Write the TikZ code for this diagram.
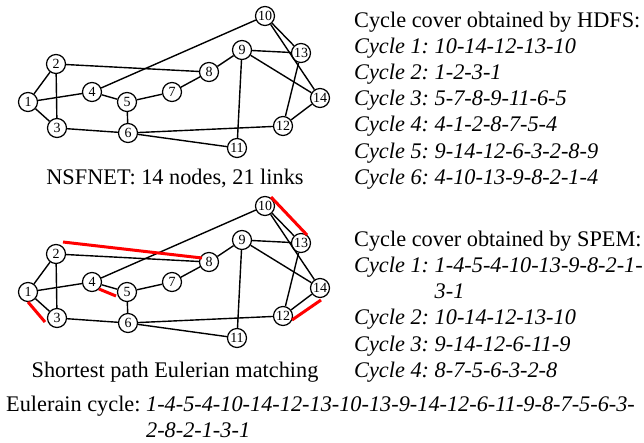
\documentclass[tikz,border=0pt]{standalone}
\usepackage{fontspec}
\setmainfont{Liberation Serif}
\usetikzlibrary{calc}
\frenchspacing
\begin{document}
\frenchspacing
\begin{tikzpicture}[x=1pt,y=-1pt,
  vtx/.style={circle,draw,line width=1.2pt,minimum size=19pt,inner sep=0pt,font=\fontsize{14}{14}\selectfont},
  lnk/.style={line width=1.4pt},
  hl/.style={line width=3pt,red},
  txt/.style={anchor=base west,inner sep=0pt,font=\fontsize{22.3}{26}\selectfont},
  captxt/.style={anchor=base,inner sep=0pt,font=\fontsize{22.3}{26}\selectfont}]
\useasboundingbox (0,0) rectangle (644,442);
% nodes
\foreach \n/\x/\y in {1/28/102,2/56/64,3/57/128,4/92/92,5/127/102,6/128/133,7/172/92,8/209/72,9/242/50,10/265/16,11/237/148,12/283/126,13/301/53,14/320/98}{
  \node[vtx] (a\n) at (\x,\y) {\n};
  \node[vtx] (b\n) at (\x,\y+190) {\n};
}
% links
\foreach \u/\v in {1/2,1/3,1/4,2/3,2/8,3/6,4/5,4/10,5/7,5/6,7/8,8/9,9/13,9/14,9/11,10/13,10/14,13/12,14/12,6/12,6/11}{
  \draw[lnk] (a\u) -- (a\v);
  \draw[lnk] (b\u) -- (b\v);
}
% matching highlights
\coordinate (m1s) at ($(b2)+(7,-12)$);  \coordinate (m1e) at ($(b8)+(-7,-4)$);
\coordinate (m2s) at ($(b4)+(7,7)$);    \coordinate (m2e) at ($(b5)+(-11,4)$);
\coordinate (m3s) at ($(b1)+(0,10)$);   \coordinate (m3e) at ($(b3)+(-12,4)$);
\coordinate (m4s) at ($(b10)+(6,-9)$);  \coordinate (m4e) at ($(b13)+(6,-8)$);
\coordinate (m5s) at ($(b12)+(9,4)$);   \coordinate (m5e) at ($(b14)+(1,12)$);
\foreach \k in {1,...,5}{\draw[hl] (m\k s) -- (m\k e);}
% captions
\node[captxt] (capA) at (175,184) {NSFNET: 14 nodes, 21 links};
\node[captxt] (capB) at (175,377) {Shortest path Eulerian matching};
% HDFS
\node[txt] (h0) at (354,27) {Cycle cover obtained by HDFS:};
\node[txt] (h1) at (354,53) {\itshape Cycle 1: 10-14-12-13-10};
\node[txt] (h2) at (354,79) {\itshape Cycle 2: 1-2-3-1};
\node[txt] (h3) at (354,105) {\itshape Cycle 3: 5-7-8-9-11-6-5};
\node[txt] (h4) at (354,131) {\itshape Cycle 4: 4-1-2-8-7-5-4};
\node[txt] (h5) at (354,158) {\itshape Cycle 5: 9-14-12-6-3-2-8-9};
\node[txt] (h6) at (354,184) {\itshape Cycle 6: 4-10-13-9-8-2-1-4};
% SPEM
\node[txt] (s0) at (354,246) {Cycle cover obtained by SPEM:};
\node[txt] (s1) at (354,272) {\itshape Cycle 1: 1-4-5-4-10-13-9-8-2-1-};
\node[txt] (s1b) at (354,298) {\itshape\phantom{Cycle 1: }3-1};
\node[txt] (s2) at (354,324) {\itshape Cycle 2: 10-14-12-13-10};
\node[txt] (s3) at (354,351) {\itshape Cycle 3: 9-14-12-6-11-9};
\node[txt] (s4) at (354,377) {\itshape Cycle 4: 8-7-5-6-3-2-8};
% Euler cycle
\node[txt] (e1) at (6,411) {Eulerain cycle: \textit{1-4-5-4-10-14-12-13-10-13-9-14-12-6-11-9-8-7-5-6-3-}};
\node[txt] (e2) at (6,437) {\phantom{Eulerain cycle: }\textit{2-8-2-1-3-1}};
\end{tikzpicture}
\end{document}
